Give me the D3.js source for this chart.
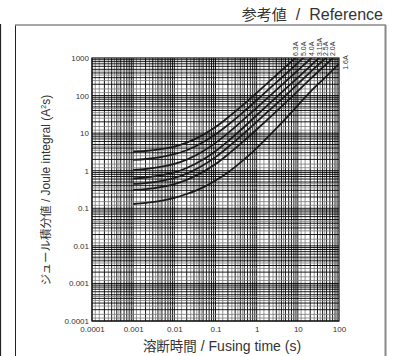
<!DOCTYPE html>
<html>
<head>
<meta charset="utf-8">
<script src="https://cdn.jsdelivr.net/npm/d3@7"></script>
<style>
  body { margin: 0; background: #fff; }
  svg { display: block; font-family: "Liberation Sans", Arial, "Noto Sans CJK JP", sans-serif; }
</style>
</head>
<body>
<svg id="chart" width="396" height="356"></svg>
<script>
// fusing time (s) at which I2t was read
var times = [0.001, 0.002, 0.005, 0.01, 0.02, 0.05, 0.1, 0.2, 0.5, 1, 2, 5, 10, 20, 50, 100];

// I2t (A2s), one array per rating
var s63  = [3.2, 3.35, 3.8, 4.4, 5.6, 9, 14.5, 26, 60, 118, 235, 580, 1150];
var s50  = [1.95, 2.05, 2.35, 2.75, 3.5, 5.7, 9.3, 16.5, 38, 75, 150, 370, 740, 1480];
var s40  = [1.05, 1.11, 1.28, 1.52, 1.98, 3.3, 5.5, 10, 24, 47, 94, 235, 470, 940, 2350];
var s315 = [0.62, 0.66, 0.76, 0.9, 1.18, 1.98, 3.3, 6.1, 14.8, 30, 60, 150, 300, 610, 1520];
var s25  = [0.445, 0.47, 0.54, 0.64, 0.84, 1.4, 2.3, 4.2, 10, 20, 40, 100, 205, 420, 1060];
var s20  = [0.31, 0.325, 0.37, 0.44, 0.57, 0.93, 1.5, 2.7, 6.3, 12.5, 25, 64, 132, 275, 700, 1420];
var s16  = [0.13, 0.14, 0.16, 0.19, 0.24, 0.36, 0.55, 0.9, 2.0, 4.0, 8.5, 24, 55, 125, 330, 700];

var ratings = ["6.3A", "5.0A", "4.0A", "3.15A", "2.5A", "2.0A", "1.6A"];
var seriesVals = [s63, s50, s40, s315, s25, s20, s16];

var xTicks = [0.0001, 0.001, 0.01, 0.1, 1, 10, 100];
var xTickLabels = ["0.0001", "0.001", "0.01", "0.1", "1", "10", "100"];
var yTicks = [0.0001, 0.001, 0.01, 0.1, 1, 10, 100, 1000];
var yTickLabels = ["0.0001", "0.001", "0.01", "0.1", "1", "10", "100", "1000"];

var svg = d3.select("#chart");

var x = d3.scaleLog().domain([0.0001, 100]).range([92, 339]);
var y = d3.scaleLog().domain([0.0001, 1000]).range([321, 58]);

// outer frame
svg.append("line").attr("x1", 0.5).attr("x2", 0.5).attr("y1", 24).attr("y2", 356)
    .attr("stroke", "#222").attr("stroke-width", 1.2);
svg.append("line").attr("x1", 15.5).attr("x2", 15.5).attr("y1", 25).attr("y2", 356)
    .attr("stroke", "#222").attr("stroke-width", 1);
svg.append("line").attr("x1", 15).attr("x2", 386).attr("y1", 25).attr("y2", 25)
    .attr("stroke", "#888").attr("stroke-width", 1.5);
svg.append("line").attr("x1", 385.5).attr("x2", 385.5).attr("y1", 25).attr("y2", 356)
    .attr("stroke", "#888").attr("stroke-width", 2);

var head = svg.append("text")
    .attr("x", 383).attr("y", 20)
    .attr("text-anchor", "end")
    .style("font-size", "16px")
    .attr("fill", "#333");
head.append("tspan").style("font-family", "'Noto Sans CJK JP', sans-serif").style("font-size", "15px").text("参考値");
head.append("tspan").attr("dx", 9).text("/");
head.append("tspan").attr("dx", 9).text("Reference");

// log grid
var mults = [1, 1.2, 1.5, 2, 2.5, 3, 3.5, 4, 4.5, 5, 6, 7, 8, 9];
function gridVals(lo, hi) {
    var out = [];
    for (var e = lo; e < hi; e++) {
        mults.forEach(function(m) {
            out.push({ v: m * Math.pow(10, e), major: m % 1 === 0 });
        });
    }
    return out;
}
var grid = svg.append("g");
gridVals(-4, 2).forEach(function(g) {
    grid.append("line")
        .attr("x1", x(g.v)).attr("x2", x(g.v)).attr("y1", y(0.0001)).attr("y2", y(1000))
        .attr("stroke", g.major ? "#000" : "#777").attr("stroke-width", g.major ? 0.9 : 0.8);
});
gridVals(-4, 3).forEach(function(g) {
    grid.append("line")
        .attr("x1", x(0.0001)).attr("x2", x(100)).attr("y1", y(g.v)).attr("y2", y(g.v))
        .attr("stroke", g.major ? "#000" : "#777").attr("stroke-width", g.major ? 0.9 : 0.8);
});
svg.append("rect")
    .attr("x", x(0.0001)).attr("y", y(1000))
    .attr("width", x(100) - x(0.0001)).attr("height", y(0.0001) - y(1000))
    .attr("fill", "none").attr("stroke", "#111").attr("stroke-width", 1.2);

// axes (labels only)
svg.append("g")
    .attr("transform", "translate(0," + y(0.0001) + ")")
    .call(d3.axisBottom(x).tickValues(xTicks).tickSize(0).tickPadding(5)
        .tickFormat(function(d, i) { return xTickLabels[i]; }))
    .call(function(g) { g.select(".domain").remove(); })
    .selectAll("text").style("font-size", "8px")
    .style("font-family", "'Liberation Sans', Arial, sans-serif").attr("fill", "#333");

svg.append("g")
    .attr("transform", "translate(" + x(0.0001) + ",0)")
    .call(d3.axisLeft(y).tickValues(yTicks).tickSize(0).tickPadding(3)
        .tickFormat(function(d, i) { return yTickLabels[i]; }))
    .call(function(g) { g.select(".domain").remove(); })
    .selectAll("text").style("font-size", "8px")
    .style("font-family", "'Liberation Sans', Arial, sans-serif").attr("fill", "#333");

// axis titles
var xt = svg.append("text")
    .attr("x", 222).attr("y", 351)
    .attr("text-anchor", "middle")
    .style("font-size", "14px")
    .attr("fill", "#333");
xt.append("tspan").style("font-family", "'Noto Sans CJK JP', sans-serif").style("font-size", "13.5px").text("溶断時間");
xt.append("tspan").text(" / Fusing time (s)");

var yt = svg.append("text")
    .attr("transform", "translate(50,190) rotate(-90)")
    .attr("text-anchor", "middle")
    .style("font-size", "12px")
    .attr("fill", "#333");
yt.append("tspan").style("font-family", "'Noto Sans CJK JP', sans-serif").style("font-size", "11.5px").text("ジュール積分値");
yt.append("tspan").text(" / Joule integral (A");
yt.append("tspan").attr("dy", -4).style("font-size", "7px").text("2");
yt.append("tspan").attr("dy", 4).text("s)");

// curves
svg.append("clipPath").attr("id", "plotclip").append("rect")
    .attr("x", x(0.0001)).attr("y", y(1000))
    .attr("width", x(100) - x(0.0001)).attr("height", y(0.0001) - y(1000));

var line = d3.line()
    .x(function(d) { return x(d[0]); })
    .y(function(d) { return y(d[1]); })
    .curve(d3.curveMonotoneX);

seriesVals.forEach(function(vals, i) {
    var pts = vals.map(function(v, j) { return [times[j], v]; });
    svg.append("path")
        .datum(pts)
        .attr("clip-path", "url(#plotclip)")
        .attr("d", line)
        .attr("fill", "none")
        .attr("stroke", "#1a1a1a")
        .attr("stroke-width", 1.8);

    // label where the curve leaves the plot
    var lx, ly;
    var k = pts.findIndex(function(p) { return p[1] >= 1000; });
    if (k > 0) {
        var a = pts[k - 1], b = pts[k];
        var f = (Math.log(1000) - Math.log(a[1])) / (Math.log(b[1]) - Math.log(a[1]));
        var lt = Math.exp(Math.log(a[0]) + f * (Math.log(b[0]) - Math.log(a[0])));
        lx = x(lt) + 2.5; ly = y(1000) - 2;
    } else {
        var last = pts[pts.length - 1];
        lx = x(last[0]) + 9; ly = y(last[1]) + 6;
    }
    svg.append("text")
        .attr("transform", "translate(" + lx + "," + ly + ") rotate(-90)")
        .style("font-size", "7px")
        .attr("fill", "#333")
        .text(ratings[i]);
});
</script>
</body>
</html>
